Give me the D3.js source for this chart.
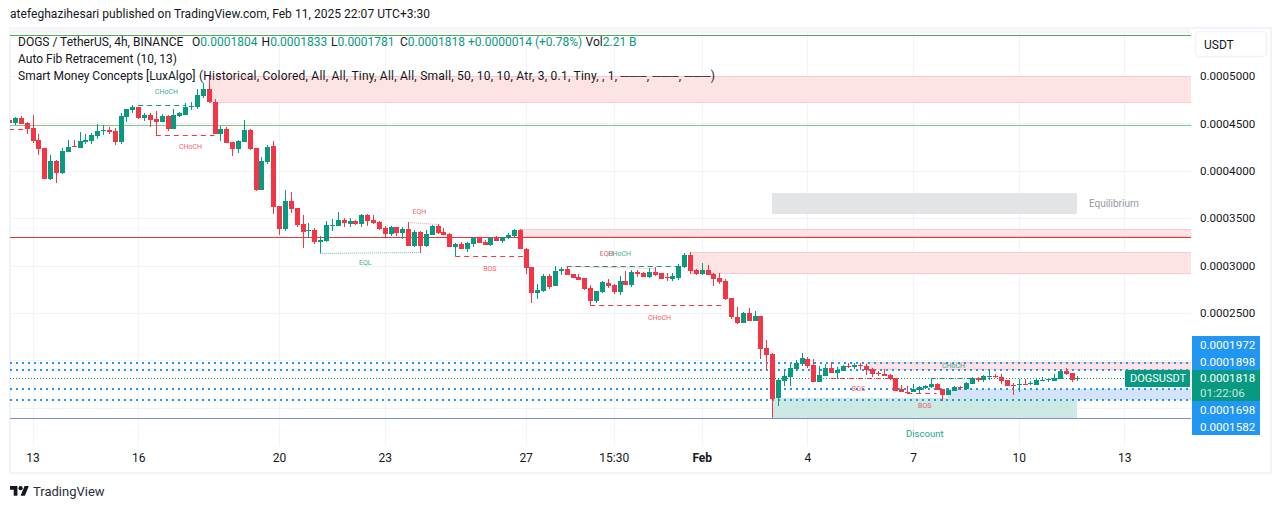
<!DOCTYPE html>
<html>
<head>
<meta charset="utf-8">
<title>DOGSUSDT</title>
<script src="https://cdn.jsdelivr.net/npm/d3@7"></script>
<style>
  html, body { margin: 0; padding: 0; background: #fff; overflow: hidden; }
  text { font-family: Roboto, "Noto Sans", sans-serif; }
</style>
</head>
<body>
<svg id="chart" width="1281" height="509"></svg>
<script>
// all prices are in units of 0.0000001
var opens = [
4536,4501,4557,4508,4448,4325,4241,3913,4103,3977,
4198,4258,4244,4307,4314,4364,4423,4430,4420,4304,
4568,4641,4673,4561,4589,4543,4518,4578,4441,4575,
4589,4673,4673,4789,4863,4726,4388,4441,4304,4230,
4304,4430,4241,3797,4093,4262,3629,3386,3681,3607,
3438,3368,3375,3248,3259,3421,3417,3480,3438,3470,
3438,3533,3480,3459,3396,3333,3407,3343,3386,3206,
3354,3206,3322,3417,3354,3333,3196,3227,3174,3227,
3301,3248,3217,3301,3259,3291,3312,3375,3174,2985,
2710,2732,2890,2785,2943,2964,2911,2880,2869,2764,
2626,2721,2816,2795,2721,2837,2795,2932,2922,2880,
2932,2922,2880,2858,2869,2985,3112,2953,2911,2953,
2911,2869,2837,2658,2458,2394,2500,2415,2468,2131,
2067,1603,1782,1824,1909,1962,2014,1951,1775,1835,
1919,1867,1888,1944,1930,1951,1940,1909,1867,1856,
1845,1814,1698,1670,1666,1687,1708,1719,1751,1698,
1634,1677,1719,1698,1751,1814,1793,1831,1838,1824,
1793,1743,1736,1751,1751,1740,1786,1793,1782,1803,
1888,1867,1804];
var highs = [
4540,4571,4578,4518,4589,4388,4241,4167,4114,4244,
4325,4325,4406,4388,4395,4490,4483,4466,4448,4606,
4656,4694,4677,4606,4606,4631,4599,4585,4652,4620,
4712,4726,4860,4923,5000,4757,4473,4459,4304,4325,
4532,4437,4241,4149,4272,4314,3629,3797,3776,3607,
3533,3449,3400,3312,3470,3491,3561,3502,3502,3480,
3544,3544,3533,3470,3417,3417,3407,3407,3459,3375,
3364,3375,3424,3438,3396,3343,3238,3248,3248,3301,
3301,3269,3301,3312,3301,3343,3386,3386,3185,2985,
2805,2911,2911,2996,2985,2996,2911,2911,2869,2795,
2732,2837,2858,2806,2890,2943,2953,2953,2932,2975,
2985,2922,2922,2922,3017,3133,3143,2964,3027,3006,
2922,2918,2858,2658,2563,2510,2553,2521,2468,2215,
2078,1814,1898,1962,2004,2078,2035,2014,1940,1962,
1983,1930,1951,1972,1972,1972,1962,1919,1888,1909,
1856,1814,1740,1729,1751,1729,1740,1814,1761,1698,
1708,1729,1729,1772,1824,1824,1845,1909,1856,1856,
1793,1761,1803,1803,1782,1803,1824,1814,1856,1909,
1919,1867,1833];
var lows = [
4505,4483,4494,4388,4297,4170,3913,3903,3875,3966,
4198,4248,4244,4283,4283,4339,4381,4388,4272,4283,
4518,4613,4550,4525,4459,4374,4515,4423,4441,4564,
4589,4641,4648,4765,4719,4388,4314,4290,4156,4191,
4304,4219,3787,3797,4072,3544,3323,3361,3555,3410,
3185,3298,3227,3129,3252,3368,3417,3410,3410,3428,
3410,3417,3435,3375,3301,3312,3312,3280,3206,3199,
3136,3196,3322,3333,3322,3196,3097,3174,3143,3196,
3238,3217,3206,3259,3238,3280,3301,3174,2911,2605,
2647,2721,2753,2785,2901,2901,2869,2848,2742,2574,
2605,2711,2764,2700,2690,2795,2774,2880,2880,2869,
2890,2858,2837,2837,2848,2975,2911,2901,2901,2901,
2785,2806,2637,2436,2384,2394,2415,2415,2014,1898,
1392,1518,1729,1729,1888,1940,1919,1775,1775,1835,
1867,1803,1888,1919,1909,1898,1845,1824,1835,1835,
1793,1677,1666,1645,1666,1645,1698,1708,1687,1571,
1634,1677,1687,1687,1751,1772,1772,1793,1814,1751,
1729,1634,1666,1740,1740,1740,1782,1772,1782,1803,
1845,1772,1781];
var closes = [
4508,4557,4497,4441,4314,4233,3917,4103,3977,4209,
4248,4251,4314,4325,4378,4420,4430,4409,4304,4578,
4648,4673,4561,4589,4536,4518,4578,4441,4589,4606,
4673,4684,4800,4860,4726,4388,4441,4297,4230,4314,
4430,4230,3797,4103,4251,3618,3386,3681,3597,3428,
3357,3375,3248,3269,3428,3428,3480,3449,3470,3438,
3533,3470,3449,3386,3333,3407,3343,3386,3206,3354,
3206,3333,3417,3343,3322,3196,3227,3174,3238,3291,
3238,3217,3291,3259,3301,3322,3375,3174,2974,2710,
2742,2890,2774,2943,2964,2901,2869,2848,2753,2626,
2732,2827,2785,2721,2837,2795,2932,2911,2880,2932,
2901,2858,2873,2890,2996,3112,2943,2911,2953,2901,
2858,2827,2648,2458,2394,2500,2415,2468,2120,2057,
1592,1793,1835,1919,1972,2025,1940,1775,1845,1919,
1867,1898,1940,1937,1951,1944,1898,1856,1856,1838,
1803,1680,1666,1663,1698,1719,1729,1751,1687,1634,
1687,1719,1712,1761,1814,1789,1835,1838,1831,1782,
1729,1736,1751,1743,1761,1793,1793,1800,1814,1888,
1856,1793,1818];

var priceTicks = [5000, 4500, 4000, 3500, 3000, 2500];
var gridPrices = [5000, 4500, 4000, 3500, 3000, 2500, 2000, 1500];
var timeBars = [4, 22, 46, 64, 88, 103, 118, 136, 154, 172, 190];
var timeLabels = ["13", "16", "20", "23", "27", "15:30", "Feb", "4", "7", "10", "13"];

// from bar, to bar (null = right edge), top price, bottom price, kind
var zones = [
    [34, null, 5000, 4720, "supply"],
    [87, null, 3386, 3298, "supply"],
    [116, null, 3140, 2914, "supply"],
    [146, null, 1979, 1898, "supply"],
    [160, null, 1698, 1582, "fib"],
    [130, 182, 3766, 3544, "equilibrium"],
    [130, 182, 1599, 1392, "discount"]
];

var fibLevels = [5433, 4483, 3302, 1392];
var fibColors = ["#4caf50", "#81c784", "#e53935", "#7f8fc6"];
var dottedLevels = [1972, 1898, 1698, 1582];
var lastPrice = 1818;

// from bar, to bar, from price, to price
var upStructure = [[22, 30, 4694, 4694], [95, 114, 2992, 2992], [157, 166, 1810, 1810]];
var downStructure = [[0, 3, 4438, 4438], [25, 35, 4378, 4378], [76, 88, 3098, 3098], [99, 122, 2580, 2580], [140, 150, 1810, 1810], [153, 158, 1652, 1652]];
var upEqual = [[53, 70, 3129, 3140]];
var downEqual = [[68, 73, 3457, 3439], [95, 110, 2996, 2975]];

// text, bar, price, kind
var marks = [
    ["CHoCH", 26.8, 4831, "up"],
    ["CHoCH", 30.9, 4261, "down"],
    ["EQH", 69.9, 3565, "down"],
    ["EQL", 60.7, 3027, "up"],
    ["BOS", 81.9, 2974, "down"],
    ["EQH", 101.8, 3122, "down"],
    ["CHoCH", 104, 3122, "up"],
    ["CHoCH", 110.8, 2457, "down"],
    ["BOS", 144.7, 1698, "down"],
    ["CHoCH", 160.9, 1944, "up"],
    ["BOS", 156, 1522, "down"]
];

var priceTags = ["0.0001972", "0.0001898", "0.0001698", "0.0001582"];

var green = "#089981", red = "#f23645", blue = "#2196f3", ink = "#131722";
var svg = d3.select("#chart");
var plot = {left: 10, right: 1191, top: 33, bottom: 446};

//outer frame of the widget
svg.append("rect").attr("x", 10).attr("y", 28).attr("width", 1261).attr("height", 445)
    .attr("fill", "none").attr("stroke", "#f0f3fa").attr("stroke-width", 2);
svg.append("rect").attr("x", 10).attr("y", 27).attr("width", 1181).attr("height", 6).attr("fill", "#f5f6f9");

var x = d3.scaleLinear().domain([0.16, 201.35]).range([plot.left, plot.right]);
var y = d3.scaleLinear().domain([5454, 1096.5]).range([plot.top, plot.bottom]);

svg.append("defs").append("clipPath").attr("id", "plotClip").append("rect")
    .attr("x", plot.left).attr("y", plot.top)
    .attr("width", plot.right - plot.left).attr("height", plot.bottom - plot.top);
var inner = svg.append("g").attr("clip-path", "url(#plotClip)");

//grid
inner.append("g").selectAll("line").data(gridPrices).enter().append("line")
    .attr("x1", plot.left).attr("x2", plot.right)
    .attr("y1", function(d) {return Math.round(y(d)) + 0.5;})
    .attr("y2", function(d) {return Math.round(y(d)) + 0.5;})
    .attr("stroke", "#f0f3fa");
inner.append("g").selectAll("line").data(timeBars).enter().append("line")
    .attr("y1", plot.top).attr("y2", plot.bottom)
    .attr("x1", function(d) {return Math.round(x(d)) + 0.5;})
    .attr("x2", function(d) {return Math.round(x(d)) + 0.5;})
    .attr("stroke", "#f0f3fa");

//zones
var zoneFill = {supply: "#fde3e4", fib: "#d3e3fb", equilibrium: "#e3e4e6", discount: "#cde9e3"};
inner.append("g").selectAll("rect").data(zones).enter().append("rect")
    .attr("x", function(d) {return Math.round(x(d[0]));})
    .attr("y", function(d) {return Math.round(y(d[2]));})
    .attr("width", function(d) {return Math.round(d[1] === null ? plot.right : x(d[1])) - Math.round(x(d[0]));})
    .attr("height", function(d) {return Math.round(y(d[3])) - Math.round(y(d[2]));})
    .attr("fill", function(d) {return zoneFill[d[4]];});
inner.append("g").selectAll("path").data(zones.filter(function(d) {return d[4] == "supply";})).enter().append("path")
    .attr("d", function(d) {
        var x0 = Math.round(x(d[0]));
        return "M" + x0 + "," + (Math.round(y(d[2])) + 0.5) + "H" + plot.right +
               "M" + x0 + "," + (Math.round(y(d[3])) - 0.5) + "H" + plot.right;
    })
    .attr("stroke", "#f9c9cc").attr("fill", "none");

//auto fib lines
inner.append("g").selectAll("line").data(fibLevels).enter().append("line")
    .attr("x1", plot.left).attr("x2", plot.right)
    .attr("y1", function(d) {return Math.round(y(d)) + 0.5;})
    .attr("y2", function(d) {return Math.round(y(d)) + 0.5;})
    .attr("stroke", function(d, i) {return fibColors[i];});

inner.append("g").selectAll("line").data(dottedLevels).enter().append("line")
    .attr("x1", plot.left).attr("x2", plot.right)
    .attr("y1", function(d) {return Math.round(y(d));})
    .attr("y2", function(d) {return Math.round(y(d));})
    .attr("stroke", blue).attr("stroke-width", 2).attr("stroke-dasharray", "2 4");

inner.append("line")
    .attr("x1", plot.left).attr("x2", 1125)
    .attr("y1", Math.round(y(lastPrice)) + 0.5).attr("y2", Math.round(y(lastPrice)) + 0.5)
    .attr("stroke", green).attr("stroke-dasharray", "1 2");

//structure lines
function drawStructure(rows, color, dash, opacity) {
    inner.append("g").selectAll("line").data(rows).enter().append("line")
        .attr("x1", function(d) {return x(d[0]);})
        .attr("x2", function(d) {return x(d[1]);})
        .attr("y1", function(d) {return Math.round(y(d[2])) + 0.5;})
        .attr("y2", function(d) {return Math.round(y(d[3])) + 0.5;})
        .attr("stroke", color).attr("stroke-dasharray", dash).attr("opacity", opacity);
}
drawStructure(upStructure, green, "5 4", 1);
drawStructure(downStructure, red, "5 4", 1);
drawStructure(upEqual, green, "1 1", 0.6);
drawStructure(downEqual, red, "1 1", 0.5);

//candles
var candles = inner.append("g").selectAll("g").data(opens).enter().append("g")
    .attr("fill", function(d, i) {return closes[i] >= opens[i] ? green : red;});
candles.append("rect")
    .attr("x", function(d, i) {return Math.round(x(i));})
    .attr("width", 1)
    .attr("y", function(d, i) {return Math.round(y(highs[i]));})
    .attr("height", function(d, i) {return Math.max(1, Math.round(y(lows[i])) - Math.round(y(highs[i])));});
candles.append("rect")
    .attr("x", function(d, i) {return Math.round(x(i)) - 2;})
    .attr("width", 5)
    .attr("y", function(d, i) {return Math.round(y(Math.max(opens[i], closes[i])));})
    .attr("height", function(d, i) {return Math.max(1, Math.round(y(Math.min(opens[i], closes[i]))) - Math.round(y(Math.max(opens[i], closes[i]))));});

//tiny structure labels
inner.append("g").selectAll("text").data(marks).enter().append("text")
    .attr("x", function(d) {return x(d[1]);})
    .attr("y", function(d) {return y(d[2]);})
    .attr("dy", "0.35em")
    .attr("text-anchor", "middle")
    .attr("font-size", 7)
    .attr("fill", function(d) {return d[3] == "up" ? green : red;})
    .attr("opacity", 0.8)
    .text(function(d) {return d[0];});

inner.append("text").attr("x", x(156)).attr("y", y(1223)).attr("dy", "0.35em")
    .attr("text-anchor", "middle").attr("font-size", 9.5).attr("fill", green).attr("opacity", 0.9).text("Discount");
inner.append("text").attr("x", x(188.2)).attr("y", y(3660)).attr("dy", "0.35em")
    .attr("text-anchor", "middle").attr("font-size", 10).attr("fill", "#9598a1").text("Equilibrium");

//price axis
var priceAxis = d3.axisRight(y).tickValues(priceTicks).tickSize(0).tickPadding(0)
    .tickFormat(function(d) {return (d / 1e7).toFixed(7);});
var priceG = svg.append("g").attr("transform", "translate(1200,0)").call(priceAxis);
priceG.select(".domain").remove();
priceG.selectAll("text").attr("font-size", 11.6).attr("fill", ink).style("font-family", "Roboto");

//time axis
var timeAxis = d3.axisBottom(x).tickValues(timeBars).tickSize(0).tickPadding(0)
    .tickFormat(function(d, i) {return timeLabels[i];});
var timeG = svg.append("g").attr("transform", "translate(0,453)").call(timeAxis);
timeG.select(".domain").remove();
timeG.selectAll("text").attr("font-size", 12).attr("fill", ink).style("font-family", "Roboto")
    .attr("font-weight", function(d, i) {return timeLabels[i] == "Feb" ? "bold" : null;});

//currency button
svg.append("rect").attr("x", 1195.5).attr("y", 31.5).attr("width", 71).attr("height", 25).attr("rx", 4)
    .attr("fill", "#fff").attr("stroke", "#f0f3fa").attr("stroke-width", 1.5);
svg.append("text").attr("x", 1204).attr("y", 49).attr("font-size", 12).attr("fill", ink).text("USDT");

//price tags on the axis, stacked so they do not collide
svg.append("rect").attr("x", 1192).attr("y", 336).attr("width", 68).attr("height", 34).attr("fill", blue);
svg.append("rect").attr("x", 1192).attr("y", 401).attr("width", 68).attr("height", 34).attr("fill", blue);
svg.append("rect").attr("x", 1192).attr("y", 370).attr("width", 68).attr("height", 31).attr("fill", green);
svg.append("rect").attr("x", 1125).attr("y", 370).attr("width", 65).attr("height", 17).attr("rx", 1).attr("fill", green);
svg.selectAll(".tag").data(priceTags).enter().append("text").attr("class", "tag")
    .attr("x", 1200)
    .attr("y", function(d, i) {return [349, 366, 414, 431][i];})
    .attr("font-size", 11.6).attr("fill", "#fff").text(function(d) {return d;});
svg.append("text").attr("x", 1200).attr("y", 382).attr("font-size", 11.6).attr("fill", "#fff").text("0.0001818");
svg.append("text").attr("x", 1200).attr("y", 397).attr("font-size", 11.6).attr("fill", "#fff").attr("opacity", 0.75).text("01:22:06");
svg.append("text").attr("x", 1130).attr("y", 382).attr("font-size", 11).attr("fill", "#fff").text("DOGSUSDT");

//headline
svg.append("text").attr("x", 10).attr("y", 18).attr("font-size", 12).attr("fill", ink)
    .attr("textLength", 420)
    .text("atefeghazihesari published on TradingView.com, Feb 11, 2025 22:07 UTC+3:30");

//legend
var legend = svg.append("text").attr("x", 18).attr("y", 46).attr("font-size", 12).attr("fill", ink);
legend.append("tspan").text("DOGS / TetherUS, 4h, BINANCE");
var legendValues = [["O", "0.0001804", 192], ["H", "0.0001833", 261.6], ["L", "0.0001781", 331], ["C", "0.0001818", 400]];
legendValues.forEach(function(d) {
    legend.append("tspan").attr("x", d[2]).text(d[0]);
    legend.append("tspan").attr("fill", green).text(d[1]);
});
legend.append("tspan").attr("x", 468).attr("fill", green).text("+0.0000014 (+0.78%)");
legend.append("tspan").attr("x", 585.6).text("Vol");
legend.append("tspan").attr("fill", green).text("2.21 B");

svg.append("text").attr("x", 18).attr("y", 63).attr("font-size", 12).attr("fill", ink)
    .text("Auto Fib Retracement (10, 13)");
svg.append("text").attr("x", 18).attr("y", 80).attr("font-size", 12).attr("fill", ink)
    .text("Smart Money Concepts [LuxAlgo]");
svg.append("text").attr("x", 199).attr("y", 80).attr("font-size", 12).attr("fill", ink)
    .attr("textLength", 516)
    .text("(Historical, Colored, All, All, Tiny, All, All, Small, 50, 10, 10, Atr, 3, 0.1, Tiny, , 1, ───, ───, ───)");

//logo
var logo = svg.append("g").attr("transform", "translate(10,484) scale(0.53)").attr("fill", ink);
logo.append("path").attr("d", "M14 22H7V11H0V4h14v18zM28 22h-8l7.5-18h8L28 22z");
logo.append("circle").attr("cx", 20).attr("cy", 8).attr("r", 4);
svg.append("text").attr("x", 33).attr("y", 496).attr("font-size", 13).attr("fill", "#2a2e39").text("TradingView");
</script>
</body>
</html>
